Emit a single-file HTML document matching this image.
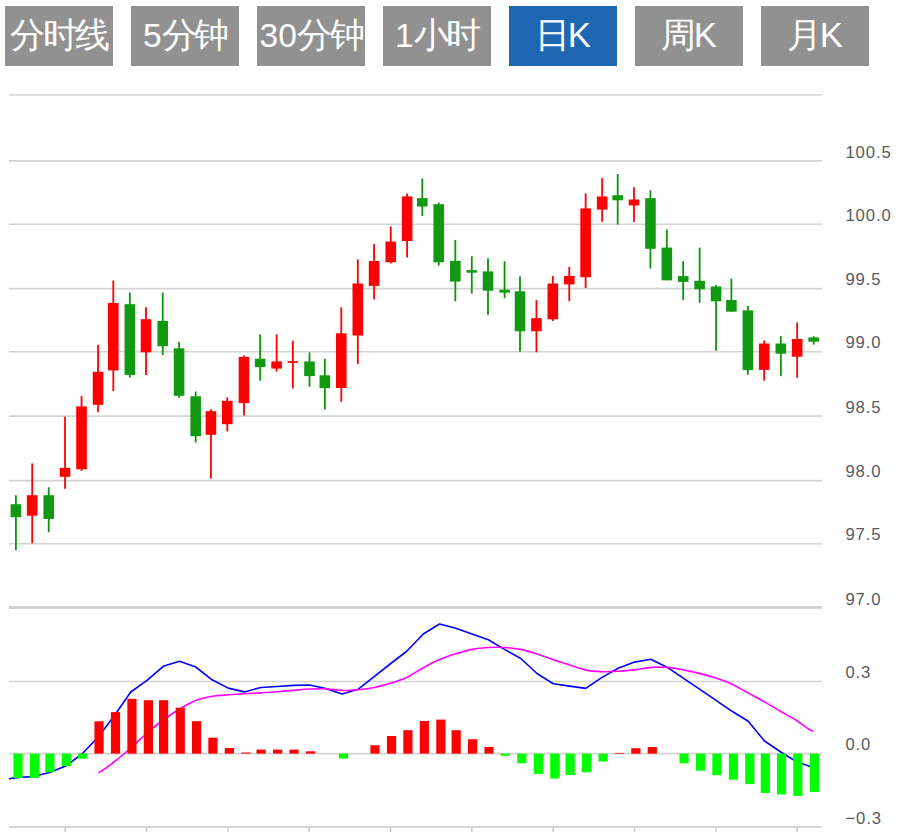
<!DOCTYPE html>
<html><head><meta charset="utf-8"><style>
html,body{margin:0;padding:0;background:#fff;width:903px;height:832px;overflow:hidden;position:relative;font-family:"Liberation Sans",sans-serif}
.btn{position:absolute;top:6px;width:108px;height:60px;background:#919191;color:#fff;font-size:35px;line-height:58.6px;letter-spacing:-2.2px;text-align:center;white-space:nowrap}
.btn .d{font-size:33.5px;letter-spacing:0}
.btn .k{font-size:34.8px;letter-spacing:0}
.btn.on{background:#1c66b2}
.lab{position:absolute;left:845.4px;font-size:16.7px;line-height:16.7px;letter-spacing:0.9px;color:#595959;white-space:nowrap}
svg{position:absolute;left:0;top:0}
</style></head><body>
<div class="btn" style="left:5px">分时线</div>
<div class="btn" style="left:131px"><span class="d">5</span>分钟</div>
<div class="btn" style="left:257px"><span class="d">3</span><span class="d">0</span>分钟</div>
<div class="btn" style="left:383px"><span class="d">1</span>小时</div>
<div class="btn on" style="left:509px">日<span class="k">K</span></div>
<div class="btn" style="left:635px">周<span class="k">K</span></div>
<div class="btn" style="left:761px">月<span class="k">K</span></div>

<svg width="903" height="832" viewBox="0 0 903 832">
<line x1="9" y1="95" x2="822" y2="95" stroke="#d3d3d3" stroke-width="1.6"/>
<line x1="9" y1="160.9" x2="822" y2="160.9" stroke="#d3d3d3" stroke-width="1.6"/>
<line x1="9" y1="224.2" x2="822" y2="224.2" stroke="#d3d3d3" stroke-width="1.6"/>
<line x1="9" y1="288.6" x2="822" y2="288.6" stroke="#d3d3d3" stroke-width="1.6"/>
<line x1="9" y1="351.8" x2="822" y2="351.8" stroke="#d3d3d3" stroke-width="1.6"/>
<line x1="9" y1="416.1" x2="822" y2="416.1" stroke="#d3d3d3" stroke-width="1.6"/>
<line x1="9" y1="480.6" x2="822" y2="480.6" stroke="#d3d3d3" stroke-width="1.6"/>
<line x1="9" y1="543.7" x2="822" y2="543.7" stroke="#d3d3d3" stroke-width="1.6"/>
<line x1="9" y1="607.4" x2="822" y2="607.4" stroke="#d2d2d2" stroke-width="3"/>
<line x1="9" y1="681.5" x2="822" y2="681.5" stroke="#d3d3d3" stroke-width="1.6"/>
<line x1="9" y1="753.6" x2="822" y2="753.6" stroke="#d3d3d3" stroke-width="1.6"/>
<line x1="65.20" y1="826" x2="65.20" y2="832" stroke="#b9c9dd" stroke-width="1.4"/>
<line x1="146.53" y1="826" x2="146.53" y2="832" stroke="#b9c9dd" stroke-width="1.4"/>
<line x1="227.86" y1="826" x2="227.86" y2="832" stroke="#b9c9dd" stroke-width="1.4"/>
<line x1="309.19" y1="826" x2="309.19" y2="832" stroke="#b9c9dd" stroke-width="1.4"/>
<line x1="390.52" y1="826" x2="390.52" y2="832" stroke="#b9c9dd" stroke-width="1.4"/>
<line x1="471.85" y1="826" x2="471.85" y2="832" stroke="#b9c9dd" stroke-width="1.4"/>
<line x1="553.18" y1="826" x2="553.18" y2="832" stroke="#b9c9dd" stroke-width="1.4"/>
<line x1="634.51" y1="826" x2="634.51" y2="832" stroke="#b9c9dd" stroke-width="1.4"/>
<line x1="715.84" y1="826" x2="715.84" y2="832" stroke="#b9c9dd" stroke-width="1.4"/>
<line x1="797.17" y1="826" x2="797.17" y2="832" stroke="#b9c9dd" stroke-width="1.4"/>
<line x1="9" y1="827" x2="822" y2="827" stroke="#d6d6d6" stroke-width="1.8"/>
<line x1="15.90" y1="495.2" x2="15.90" y2="550.3" stroke="#0a950a" stroke-width="1.8"/>
<rect x="10.60" y="504.2" width="10.6" height="13.00" fill="#129912"/>
<line x1="32.20" y1="463.4" x2="32.20" y2="543.2" stroke="#ff0000" stroke-width="1.8"/>
<rect x="26.89" y="495.2" width="10.6" height="20.50" fill="#ff0000"/>
<line x1="48.71" y1="487.3" x2="48.71" y2="532.3" stroke="#0a950a" stroke-width="1.8"/>
<rect x="43.41" y="495.2" width="10.6" height="23.70" fill="#129912"/>
<line x1="65.01" y1="416.7" x2="65.01" y2="488.8" stroke="#ff0000" stroke-width="1.8"/>
<rect x="59.71" y="467.9" width="10.6" height="8.90" fill="#ff0000"/>
<line x1="81.53" y1="395.9" x2="81.53" y2="470.8" stroke="#ff0000" stroke-width="1.8"/>
<rect x="76.23" y="406.4" width="10.6" height="62.90" fill="#ff0000"/>
<line x1="98.05" y1="344.8" x2="98.05" y2="412.3" stroke="#ff0000" stroke-width="1.8"/>
<rect x="92.75" y="371.8" width="10.6" height="33.00" fill="#ff0000"/>
<line x1="113.30" y1="280.5" x2="113.30" y2="391.1" stroke="#ff0000" stroke-width="1.8"/>
<rect x="108.00" y="303" width="10.6" height="67.40" fill="#ff0000"/>
<line x1="129.81" y1="292.5" x2="129.81" y2="377.7" stroke="#0a950a" stroke-width="1.8"/>
<rect x="124.52" y="304.2" width="10.6" height="70.70" fill="#129912"/>
<line x1="146.03" y1="307.3" x2="146.03" y2="374.9" stroke="#ff0000" stroke-width="1.8"/>
<rect x="140.73" y="319.2" width="10.6" height="33.10" fill="#ff0000"/>
<line x1="162.71" y1="292.5" x2="162.71" y2="355" stroke="#0a950a" stroke-width="1.8"/>
<rect x="157.41" y="321" width="10.6" height="25.20" fill="#129912"/>
<line x1="179.07" y1="341.9" x2="179.07" y2="397.7" stroke="#0a950a" stroke-width="1.8"/>
<rect x="173.77" y="348.3" width="10.6" height="47.50" fill="#129912"/>
<line x1="195.67" y1="391.5" x2="195.67" y2="442.5" stroke="#0a950a" stroke-width="1.8"/>
<rect x="190.37" y="396.3" width="10.6" height="39.90" fill="#129912"/>
<line x1="210.95" y1="409.2" x2="210.95" y2="478.5" stroke="#ff0000" stroke-width="1.8"/>
<rect x="205.65" y="411.2" width="10.6" height="23.60" fill="#ff0000"/>
<line x1="227.28" y1="397.3" x2="227.28" y2="431.5" stroke="#ff0000" stroke-width="1.8"/>
<rect x="221.98" y="400.8" width="10.6" height="23.40" fill="#ff0000"/>
<line x1="243.96" y1="355.4" x2="243.96" y2="415.6" stroke="#ff0000" stroke-width="1.8"/>
<rect x="238.66" y="356.9" width="10.6" height="46.20" fill="#ff0000"/>
<line x1="260.17" y1="334.4" x2="260.17" y2="380.7" stroke="#0a950a" stroke-width="1.8"/>
<rect x="254.87" y="358.7" width="10.6" height="8.40" fill="#129912"/>
<line x1="276.62" y1="334.4" x2="276.62" y2="371.7" stroke="#ff0000" stroke-width="1.8"/>
<rect x="271.32" y="361.4" width="10.6" height="7.20" fill="#ff0000"/>
<line x1="292.91" y1="340.7" x2="292.91" y2="388.5" stroke="#ff0000" stroke-width="1.8"/>
<rect x="287.61" y="361.2" width="10.6" height="1.70" fill="#ff0000"/>
<line x1="309.51" y1="352.4" x2="309.51" y2="386.7" stroke="#0a950a" stroke-width="1.8"/>
<rect x="304.21" y="361.4" width="10.6" height="14.70" fill="#129912"/>
<line x1="324.83" y1="358.7" x2="324.83" y2="409.5" stroke="#0a950a" stroke-width="1.8"/>
<rect x="319.53" y="375.3" width="10.6" height="12.90" fill="#129912"/>
<line x1="341.27" y1="307.3" x2="341.27" y2="401.6" stroke="#ff0000" stroke-width="1.8"/>
<rect x="335.97" y="333.3" width="10.6" height="54.70" fill="#ff0000"/>
<line x1="357.80" y1="259.4" x2="357.80" y2="364.1" stroke="#ff0000" stroke-width="1.8"/>
<rect x="352.50" y="283.5" width="10.6" height="52.00" fill="#ff0000"/>
<line x1="374.09" y1="244.1" x2="374.09" y2="299.6" stroke="#ff0000" stroke-width="1.8"/>
<rect x="368.79" y="261" width="10.6" height="24.90" fill="#ff0000"/>
<line x1="390.76" y1="226.4" x2="390.76" y2="263.4" stroke="#ff0000" stroke-width="1.8"/>
<rect x="385.46" y="241.5" width="10.6" height="20.80" fill="#ff0000"/>
<line x1="407.13" y1="193.6" x2="407.13" y2="257.5" stroke="#ff0000" stroke-width="1.8"/>
<rect x="401.83" y="196.4" width="10.6" height="44.60" fill="#ff0000"/>
<line x1="422.30" y1="178.4" x2="422.30" y2="215.8" stroke="#0a950a" stroke-width="1.8"/>
<rect x="417.00" y="198.1" width="10.6" height="8.40" fill="#129912"/>
<line x1="438.75" y1="202.5" x2="438.75" y2="265.6" stroke="#0a950a" stroke-width="1.8"/>
<rect x="433.45" y="204.2" width="10.6" height="58.10" fill="#129912"/>
<line x1="455.34" y1="239.9" x2="455.34" y2="301.3" stroke="#0a950a" stroke-width="1.8"/>
<rect x="450.04" y="260.9" width="10.6" height="20.70" fill="#129912"/>
<line x1="471.79" y1="256.3" x2="471.79" y2="293.6" stroke="#0a950a" stroke-width="1.8"/>
<rect x="466.49" y="270.1" width="10.6" height="2.60" fill="#129912"/>
<line x1="488.00" y1="258.2" x2="488.00" y2="314.8" stroke="#0a950a" stroke-width="1.8"/>
<rect x="482.70" y="271.4" width="10.6" height="19.30" fill="#129912"/>
<line x1="504.60" y1="261.2" x2="504.60" y2="298.3" stroke="#0a950a" stroke-width="1.8"/>
<rect x="499.30" y="289.7" width="10.6" height="2.90" fill="#129912"/>
<line x1="520.00" y1="276.2" x2="520.00" y2="351.8" stroke="#0a950a" stroke-width="1.8"/>
<rect x="514.70" y="291.3" width="10.6" height="40.00" fill="#129912"/>
<line x1="536.44" y1="300.1" x2="536.44" y2="352.3" stroke="#ff0000" stroke-width="1.8"/>
<rect x="531.14" y="318.2" width="10.6" height="13.10" fill="#ff0000"/>
<line x1="552.81" y1="275.9" x2="552.81" y2="321" stroke="#ff0000" stroke-width="1.8"/>
<rect x="547.51" y="283.5" width="10.6" height="35.80" fill="#ff0000"/>
<line x1="569.25" y1="266.9" x2="569.25" y2="301.2" stroke="#ff0000" stroke-width="1.8"/>
<rect x="563.96" y="275.9" width="10.6" height="8.50" fill="#ff0000"/>
<line x1="585.62" y1="193.4" x2="585.62" y2="288" stroke="#ff0000" stroke-width="1.8"/>
<rect x="580.33" y="208.4" width="10.6" height="68.80" fill="#ff0000"/>
<line x1="602.14" y1="178.1" x2="602.14" y2="221.9" stroke="#ff0000" stroke-width="1.8"/>
<rect x="596.85" y="196.5" width="10.6" height="13.10" fill="#ff0000"/>
<line x1="617.69" y1="174" x2="617.69" y2="224.6" stroke="#0a950a" stroke-width="1.8"/>
<rect x="612.39" y="195.2" width="10.6" height="5.10" fill="#129912"/>
<line x1="633.99" y1="187.2" x2="633.99" y2="221.9" stroke="#ff0000" stroke-width="1.8"/>
<rect x="628.69" y="199.5" width="10.6" height="5.90" fill="#ff0000"/>
<line x1="650.43" y1="190.2" x2="650.43" y2="268.5" stroke="#0a950a" stroke-width="1.8"/>
<rect x="645.13" y="198.1" width="10.6" height="50.70" fill="#129912"/>
<line x1="666.80" y1="229.5" x2="666.80" y2="280.3" stroke="#0a950a" stroke-width="1.8"/>
<rect x="661.50" y="247.6" width="10.6" height="32.70" fill="#129912"/>
<line x1="683.17" y1="261.1" x2="683.17" y2="300.1" stroke="#0a950a" stroke-width="1.8"/>
<rect x="677.87" y="276.1" width="10.6" height="5.80" fill="#129912"/>
<line x1="699.62" y1="247.6" x2="699.62" y2="302.8" stroke="#0a950a" stroke-width="1.8"/>
<rect x="694.32" y="280.8" width="10.6" height="8.50" fill="#129912"/>
<line x1="716.06" y1="285" x2="716.06" y2="350.8" stroke="#0a950a" stroke-width="1.8"/>
<rect x="710.76" y="286.5" width="10.6" height="14.80" fill="#129912"/>
<line x1="731.38" y1="278.7" x2="731.38" y2="311.7" stroke="#0a950a" stroke-width="1.8"/>
<rect x="726.08" y="300" width="10.6" height="11.70" fill="#129912"/>
<line x1="747.90" y1="306.1" x2="747.90" y2="374.8" stroke="#0a950a" stroke-width="1.8"/>
<rect x="742.60" y="310.3" width="10.6" height="59.80" fill="#129912"/>
<line x1="764.20" y1="340.5" x2="764.20" y2="380.7" stroke="#ff0000" stroke-width="1.8"/>
<rect x="758.90" y="343.5" width="10.6" height="26.40" fill="#ff0000"/>
<line x1="780.83" y1="336" x2="780.83" y2="376.2" stroke="#0a950a" stroke-width="1.8"/>
<rect x="775.53" y="343.5" width="10.6" height="10.20" fill="#129912"/>
<line x1="797.16" y1="322.4" x2="797.16" y2="377.7" stroke="#ff0000" stroke-width="1.8"/>
<rect x="791.86" y="339" width="10.6" height="17.70" fill="#ff0000"/>
<line x1="813.68" y1="336.2" x2="813.68" y2="344.7" stroke="#0a950a" stroke-width="1.8"/>
<rect x="808.38" y="337.4" width="10.6" height="4.30" fill="#129912"/>
<polyline fill="none" stroke="#0000ff" stroke-width="1.6" stroke-linejoin="round" points="9.00,778.8 17.00,777.6 33.25,776.5 49.50,772.5 65.75,766 82.00,754 98.25,737 114.50,715.5 130.75,692 147.00,680.4 163.25,666.3 179.50,661.2 195.75,667 212.00,679.8 228.25,688.1 244.50,691.9 260.75,687.5 277.00,686.5 293.25,685.4 309.50,685 325.75,688.5 342.00,694 358.25,689.2 374.50,676.3 390.75,663.5 407.00,651 423.25,634 439.50,624 455.75,628.3 472.00,634 488.25,639.8 504.50,649.4 520.75,658.5 537.00,673.5 553.25,683.8 569.50,686.1 585.75,688.4 602.00,677.4 618.25,668.3 634.50,662.1 650.75,659.2 667.00,667.2 683.25,678.2 699.50,689.2 715.75,700.2 732.00,711.3 748.25,721.2 764.50,741 780.75,752 797.00,762 813.25,767.5"/>
<path fill="none" stroke="#ff00ff" stroke-width="1.6" d="M98.25,772.70 C103.67,770.83 109.08,765.62 114.50,761.50 C119.92,757.38 125.33,752.75 130.75,748.00 C136.17,743.25 141.58,737.67 147.00,733.00 C152.42,728.33 157.83,724.00 163.25,720.00 C168.67,716.00 174.08,712.25 179.50,709.00 C184.92,705.75 190.33,702.62 195.75,700.50 C201.17,698.38 206.58,697.25 212.00,696.30 C217.42,695.35 222.83,695.22 228.25,694.80 C233.67,694.38 239.08,694.12 244.50,693.80 C249.92,693.48 255.33,693.25 260.75,692.90 C266.17,692.55 271.58,692.12 277.00,691.70 C282.42,691.28 287.83,690.85 293.25,690.40 C298.67,689.95 304.08,689.27 309.50,689.00 C314.92,688.73 320.33,688.57 325.75,688.80 C331.17,689.03 336.58,690.23 342.00,690.40 C347.42,690.57 352.83,690.28 358.25,689.80 C363.67,689.32 369.08,688.62 374.50,687.50 C379.92,686.38 385.33,684.80 390.75,683.10 C396.17,681.40 401.58,679.87 407.00,677.30 C412.42,674.73 417.83,670.65 423.25,667.70 C428.67,664.75 434.08,661.92 439.50,659.60 C444.92,657.28 450.33,655.50 455.75,653.80 C461.17,652.10 466.58,650.45 472.00,649.40 C477.42,648.35 482.83,647.82 488.25,647.50 C493.67,647.18 499.08,647.18 504.50,647.50 C509.92,647.82 515.33,648.33 520.75,649.40 C526.17,650.47 531.58,652.17 537.00,653.90 C542.42,655.63 547.83,657.97 553.25,659.80 C558.67,661.63 564.08,663.18 569.50,664.90 C574.92,666.62 580.33,668.97 585.75,670.10 C591.17,671.23 596.58,671.50 602.00,671.70 C607.42,671.90 612.83,671.60 618.25,671.30 C623.67,671.00 629.08,670.55 634.50,669.90 C639.92,669.25 645.33,667.82 650.75,667.40 C656.17,666.98 661.58,666.98 667.00,667.40 C672.42,667.82 677.83,668.90 683.25,669.90 C688.67,670.90 694.08,672.03 699.50,673.40 C704.92,674.77 710.33,676.30 715.75,678.10 C721.17,679.90 726.58,681.70 732.00,684.20 C737.42,686.70 742.83,690.15 748.25,693.10 C753.67,696.05 759.08,698.83 764.50,701.90 C769.92,704.97 775.33,708.35 780.75,711.50 C786.17,714.65 791.58,717.50 797.00,720.80 C802.42,724.10 807.83,729.55 813.25,731.30"/>
<rect x="13.40" y="753.6" width="9.2" height="24.40" fill="#00ff00"/>
<rect x="29.84" y="753.6" width="9.2" height="24.40" fill="#00ff00"/>
<rect x="45.30" y="753.6" width="9.2" height="18.70" fill="#00ff00"/>
<rect x="61.66" y="753.6" width="9.2" height="12.40" fill="#00ff00"/>
<rect x="78.03" y="753.6" width="9.2" height="5.00" fill="#00ff00"/>
<rect x="94.46" y="721.3" width="9.2" height="32.30" fill="#ff0000"/>
<rect x="110.90" y="712.1" width="9.2" height="41.50" fill="#ff0000"/>
<rect x="127.34" y="698.8" width="9.2" height="54.80" fill="#ff0000"/>
<rect x="143.78" y="700.2" width="9.2" height="53.40" fill="#ff0000"/>
<rect x="159.01" y="700.2" width="9.2" height="53.40" fill="#ff0000"/>
<rect x="175.67" y="707.7" width="9.2" height="45.90" fill="#ff0000"/>
<rect x="191.96" y="721.2" width="9.2" height="32.40" fill="#ff0000"/>
<rect x="208.33" y="737.7" width="9.2" height="15.90" fill="#ff0000"/>
<rect x="224.76" y="748" width="9.2" height="5.60" fill="#ff0000"/>
<rect x="241.28" y="752.5" width="9.2" height="1.10" fill="#ff0000"/>
<rect x="256.51" y="749.6" width="9.2" height="4.00" fill="#ff0000"/>
<rect x="273.02" y="749.6" width="9.2" height="4.00" fill="#ff0000"/>
<rect x="289.46" y="749.6" width="9.2" height="4.00" fill="#ff0000"/>
<rect x="305.98" y="751.3" width="9.2" height="2.30" fill="#ff0000"/>
<rect x="338.96" y="753.6" width="9.2" height="4.90" fill="#00ff00"/>
<rect x="370.38" y="745.2" width="9.2" height="8.40" fill="#ff0000"/>
<rect x="386.96" y="736" width="9.2" height="17.60" fill="#ff0000"/>
<rect x="403.32" y="730.2" width="9.2" height="23.40" fill="#ff0000"/>
<rect x="419.76" y="721" width="9.2" height="32.60" fill="#ff0000"/>
<rect x="436.27" y="719.6" width="9.2" height="34.00" fill="#ff0000"/>
<rect x="451.59" y="730.2" width="9.2" height="23.40" fill="#ff0000"/>
<rect x="468.02" y="739.2" width="9.2" height="14.40" fill="#ff0000"/>
<rect x="484.46" y="746.9" width="9.2" height="6.70" fill="#ff0000"/>
<rect x="500.82" y="753.6" width="9.2" height="2.20" fill="#00ff00"/>
<rect x="517.26" y="753.6" width="9.2" height="9.60" fill="#00ff00"/>
<rect x="533.77" y="753.6" width="9.2" height="20.30" fill="#00ff00"/>
<rect x="550.21" y="753.6" width="9.2" height="24.90" fill="#00ff00"/>
<rect x="565.52" y="753.6" width="9.2" height="21.40" fill="#00ff00"/>
<rect x="581.96" y="753.6" width="9.2" height="18.70" fill="#00ff00"/>
<rect x="598.55" y="753.6" width="9.2" height="7.90" fill="#00ff00"/>
<rect x="614.84" y="752.9" width="9.2" height="0.70" fill="#ff0000"/>
<rect x="631.27" y="748.2" width="9.2" height="5.40" fill="#ff0000"/>
<rect x="647.71" y="747" width="9.2" height="6.60" fill="#ff0000"/>
<rect x="679.46" y="753.6" width="9.2" height="9.70" fill="#00ff00"/>
<rect x="695.82" y="753.6" width="9.2" height="17.10" fill="#00ff00"/>
<rect x="712.34" y="753.6" width="9.2" height="21.60" fill="#00ff00"/>
<rect x="728.85" y="753.6" width="9.2" height="26.10" fill="#00ff00"/>
<rect x="745.21" y="753.6" width="9.2" height="30.50" fill="#00ff00"/>
<rect x="760.75" y="753.6" width="9.2" height="39.40" fill="#00ff00"/>
<rect x="776.96" y="753.6" width="9.2" height="40.90" fill="#00ff00"/>
<rect x="793.25" y="753.6" width="9.2" height="42.30" fill="#00ff00"/>
<rect x="809.76" y="753.6" width="9.2" height="38.30" fill="#00ff00"/>
</svg>
<div class="lab" style="top:144.61px">100.5</div>
<div class="lab" style="top:207.91px">100.0</div>
<div class="lab" style="top:272.01px">99.5</div>
<div class="lab" style="top:334.91px">99.0</div>
<div class="lab" style="top:399.91px">98.5</div>
<div class="lab" style="top:463.91px">98.0</div>
<div class="lab" style="top:526.61px">97.5</div>
<div class="lab" style="top:591.61px">97.0</div>
<div class="lab" style="top:664.61px">0.3</div>
<div class="lab" style="top:736.71px">0.0</div>
<div class="lab" style="top:810.61px">−0.3</div>

</body></html>
